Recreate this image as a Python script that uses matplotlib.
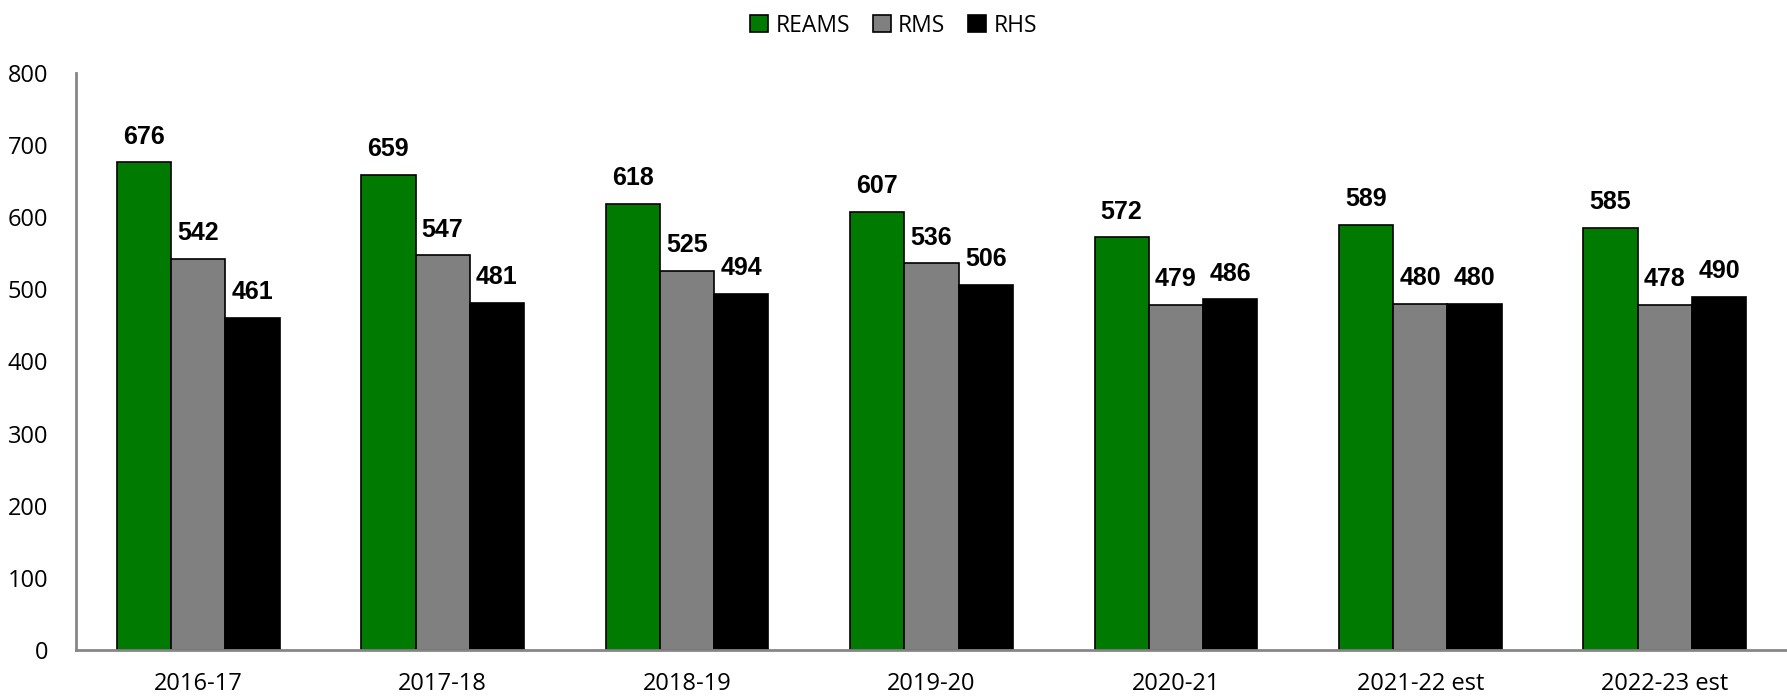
import numpy as np
import matplotlib.pyplot as plt

# --- DATA ---
years = ['2016-17', '2017-18', '2018-19', '2019-20', '2020-21', '2021-22 est', '2022-23 est']
reams = [676, 659, 618, 607, 572, 589, 585]
rms = [542, 547, 525, 536, 479, 480, 478]
rhs = [461, 481, 494, 506, 486, 480, 490]

series = [('REAMS', reams, '#007A00'), ('RMS', rms, '#808080'), ('RHS', rhs, '#000000')]

fig = plt.figure(figsize=(17.87, 6.98), dpi=100)
ax = fig.add_axes([76 / 1787, 1 - 650 / 698, 1 - 76 / 1787, (650 - 73) / 698])

x = np.arange(len(years))
w = 0.222
for i, (name, vals, col) in enumerate(series):
    pos = x + (i - 1) * w
    ax.bar(pos, vals, w, color=col, edgecolor='black', linewidth=1.2, label=name)
    for px, v in zip(pos, vals):
        ax.annotate(str(v), (px, v), xytext=(0, 10), textcoords='offset points',
                    ha='center', va='bottom', fontsize=18, fontweight='bold',
                    family='Liberation Sans')

ax.set_xlim(-0.5, len(years) - 0.5)
ax.set_ylim(0, 800)
ax.set_yticks(range(0, 801, 100))
ax.set_xticks(x)
ax.set_xticklabels(years)
ax.tick_params(length=0, labelsize=17, pad=16)
ax.tick_params(axis='y', pad=20)
for lab in ax.get_xticklabels() + ax.get_yticklabels():
    lab.set_family('Open Sans')

for s in ['top', 'right']:
    ax.spines[s].set_visible(False)
for s in ['left', 'bottom']:
    ax.spines[s].set_color('#868686')
    ax.spines[s].set_linewidth(2)

fig.legend(loc='upper center', bbox_to_anchor=(0.5, 1.01), ncol=3, frameon=False,
           prop={'family': 'Open Sans', 'size': 16.5}, handlelength=0.8, handleheight=0.8,
           handletextpad=0.3, columnspacing=1.0)

fig.savefig('out.png', dpi=100)
